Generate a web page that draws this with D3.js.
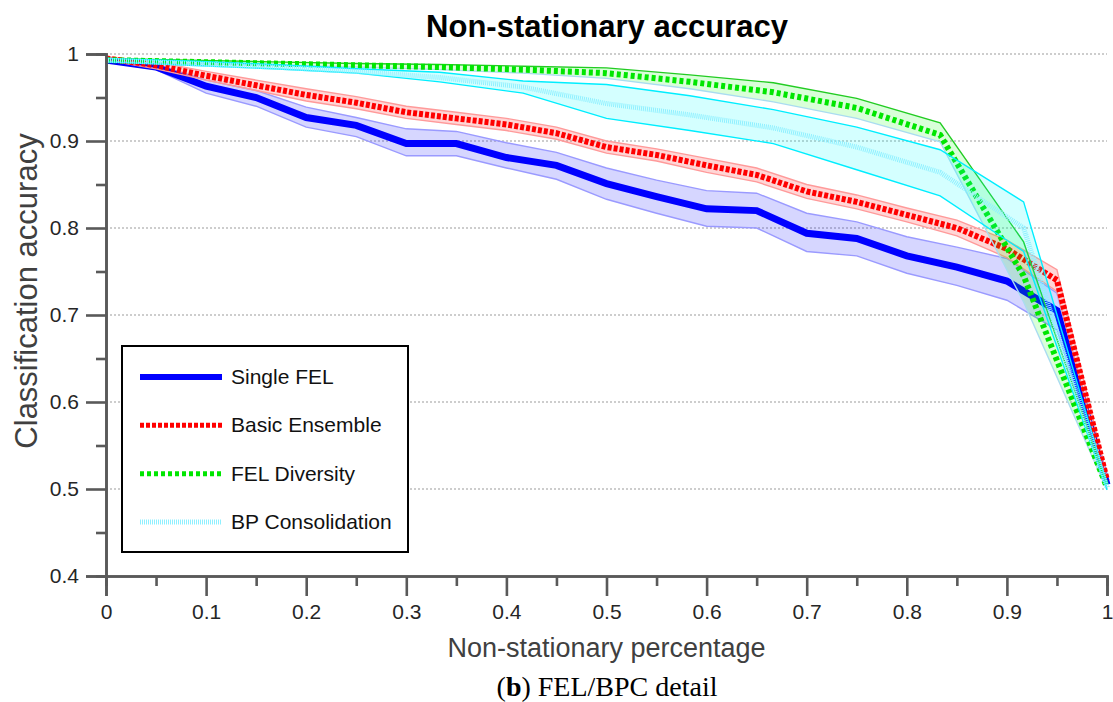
<!DOCTYPE html>
<html>
<head>
<meta charset="utf-8">
<script src="https://cdn.jsdelivr.net/npm/d3@7"></script>
<style>
  body { margin: 0; background: #fff; }
  svg { display: block; font-family: "Liberation Sans", Arial, sans-serif; }
</style>
</head>
<body>
<svg width="1113" height="702"></svg>
<script>
// x positions: the single / basic runs use 0.05 steps, the ensemble runs 1/12 steps
var xFine = [0, 0.05, 0.1, 0.15, 0.2, 0.25, 0.3, 0.35, 0.4, 0.45, 0.5,
             0.55, 0.6, 0.65, 0.7, 0.75, 0.8, 0.85, 0.9, 0.95, 1];
var xTwelfth = [0, 0.0833, 0.1667, 0.25, 0.3333, 0.4167, 0.5,
                0.5833, 0.6667, 0.75, 0.8333, 0.9167, 1];

// Single FEL
var singleMean = [0.993, 0.985, 0.963, 0.950, 0.927, 0.918, 0.897, 0.897, 0.881, 0.872, 0.851,
                  0.836, 0.822, 0.820, 0.794, 0.788, 0.768, 0.755, 0.739, 0.705, 0.505];
var singleHi   = [0.995, 0.988, 0.970, 0.958, 0.939, 0.927, 0.914, 0.911, 0.898, 0.887, 0.869,
                  0.855, 0.843, 0.840, 0.817, 0.807, 0.790, 0.778, 0.765, 0.725, 0.510];
var singleLo   = [0.991, 0.982, 0.955, 0.940, 0.916, 0.905, 0.883, 0.883, 0.869, 0.856, 0.833,
                  0.817, 0.802, 0.800, 0.773, 0.768, 0.748, 0.734, 0.717, 0.683, 0.500];

// Basic Ensemble
var basicMean = [0.995, 0.987, 0.975, 0.964, 0.953, 0.944, 0.933, 0.926, 0.919, 0.909, 0.893,
                 0.884, 0.872, 0.861, 0.842, 0.830, 0.815, 0.800, 0.776, 0.740, 0.510];
var basicHi   = [0.997, 0.991, 0.980, 0.970, 0.960, 0.951, 0.940, 0.933, 0.926, 0.916, 0.900,
                 0.891, 0.880, 0.869, 0.850, 0.838, 0.823, 0.809, 0.786, 0.752, 0.514];
var basicLo   = [0.993, 0.983, 0.970, 0.958, 0.946, 0.937, 0.926, 0.919, 0.912, 0.902, 0.886,
                 0.877, 0.864, 0.853, 0.834, 0.822, 0.807, 0.791, 0.766, 0.727, 0.506];

// FEL Diversity
var divMean = [0.993, 0.991, 0.989, 0.987, 0.985, 0.982, 0.978, 0.968, 0.956, 0.938, 0.907, 0.745, 0.502];
var divHi   = [0.995, 0.993, 0.991, 0.989, 0.988, 0.986, 0.984, 0.976, 0.967, 0.949, 0.921, 0.784, 0.505];
var divLo   = [0.991, 0.989, 0.987, 0.985, 0.982, 0.978, 0.972, 0.960, 0.945, 0.926, 0.899, 0.715, 0.499];

// BP Consolidation
var bpcMean = [0.993, 0.989, 0.985, 0.980, 0.973, 0.962, 0.943, 0.930, 0.915, 0.893, 0.864, 0.800, 0.502];
var bpcHi   = [0.995, 0.992, 0.988, 0.983, 0.979, 0.969, 0.965, 0.952, 0.936, 0.916, 0.890, 0.830, 0.506];
var bpcLo   = [0.991, 0.987, 0.983, 0.978, 0.968, 0.955, 0.926, 0.912, 0.897, 0.867, 0.837, 0.773, 0.499];

var seriesNames = ["Single FEL", "Basic Ensemble", "FEL Diversity", "BP Consolidation"];

var xMajor = [0, 0.1, 0.2, 0.3, 0.4, 0.5, 0.6, 0.7, 0.8, 0.9, 1];
var xMinor = [0.05, 0.15, 0.25, 0.35, 0.45, 0.55, 0.65, 0.75, 0.85, 0.95];
var yMajor = [0.4, 0.5, 0.6, 0.7, 0.8, 0.9, 1];
var yMinor = [0.45, 0.55, 0.65, 0.75, 0.85, 0.95];

var svg = d3.select("svg"),
    margin = {top: 54, right: 6, bottom: 126, left: 106},
    width = svg.attr("width") - margin.left - margin.right,
    height = svg.attr("height") - margin.top - margin.bottom,
    g = svg.append("g")
      .attr("transform", "translate(" + margin.left + "," + margin.top + ")");

var x = d3.scaleLinear().domain([0, 1]).range([0, width]),
    y = d3.scaleLinear().domain([0.4, 1]).range([height, 0]);

// grid
g.selectAll(".grid")
  .data(yMajor.filter(function(d) { return d > 0.4; }))
  .enter().append("line")
    .attr("x1", 0).attr("x2", width)
    .attr("y1", function(d) { return y(d); })
    .attr("y2", function(d) { return y(d); })
    .attr("stroke", "#bdbdbd")
    .attr("stroke-width", 1.3)
    .attr("stroke-dasharray", "2,2");

// series
var series = [
  {xs: xFine, mean: singleMean, hi: singleHi, lo: singleLo, fill: "rgba(0,0,255,0.16)",
   edgeHi: "#9a9aff", edgeLo: "#9a9aff", color: "#0000ff", width: 7, dash: null},
  {xs: xFine, mean: basicMean, hi: basicHi, lo: basicLo, fill: "rgba(255,0,0,0.16)",
   edgeHi: "#ff9a9a", edgeLo: "#ff9a9a", color: "#ff0000", width: 6, dash: "4,2"},
  {xs: xTwelfth, mean: divMean, hi: divHi, lo: divLo, fill: "rgba(0,255,0,0.15)",
   edgeHi: "#22cc22", edgeLo: "#aadcf0", color: "#00e600", width: 6, dash: "4,3"},
  {xs: xTwelfth, mean: bpcMean, hi: bpcHi, lo: bpcLo, fill: "rgba(0,255,255,0.17)",
   edgeHi: "#00eeff", edgeLo: "#00eeff", color: "#8ff0ff", width: 5, dash: "1,1"}
];

var line = d3.line()
  .x(function(d) { return x(d[0]); })
  .y(function(d) { return y(d[1]); });

var area = d3.area()
  .x(function(d) { return x(d[0]); })
  .y0(function(d) { return y(d[1]); })
  .y1(function(d) { return y(d[2]); });

series.forEach(function(s) {
  var band = s.xs.map(function(v, i) { return [v, s.lo[i], s.hi[i]]; });
  g.append("path").attr("d", area(band)).attr("fill", s.fill);
  g.append("path")
    .attr("d", line(s.xs.map(function(v, i) { return [v, s.hi[i]]; })))
    .attr("fill", "none").attr("stroke", s.edgeHi).attr("stroke-width", 1.4);
  g.append("path")
    .attr("d", line(s.xs.map(function(v, i) { return [v, s.lo[i]]; })))
    .attr("fill", "none").attr("stroke", s.edgeLo).attr("stroke-width", 1.4);
  g.append("path")
    .attr("d", line(s.xs.map(function(v, i) { return [v, s.mean[i]]; })))
    .attr("fill", "none")
    .attr("stroke", s.color)
    .attr("stroke-width", s.width)
    .attr("stroke-dasharray", s.dash);
});

// axes
var fmt = function(d) { return String(+d.toFixed(2)); };

g.append("g")
  .attr("class", "axis")
  .attr("transform", "translate(0," + height + ")")
  .call(d3.axisBottom(x).tickValues(xMinor).tickSize(10).tickFormat(""));
g.append("g")
  .attr("class", "axis")
  .attr("transform", "translate(0," + height + ")")
  .call(d3.axisBottom(x).tickValues(xMajor).tickSize(20).tickPadding(8).tickFormat(fmt));

g.append("g")
  .attr("class", "axis")
  .call(d3.axisLeft(y).tickValues(yMinor).tickSize(10).tickFormat(""));
g.append("g")
  .attr("class", "axis")
  .call(d3.axisLeft(y).tickValues(yMajor).tickSize(20).tickPadding(7).tickFormat(fmt));

g.selectAll(".axis path").attr("stroke", "#595959").attr("stroke-width", 2.6);
g.selectAll(".axis line").attr("stroke", "#595959").attr("stroke-width", 2.6);
g.selectAll(".axis text")
  .attr("fill", "#262626")
  .style("font-size", "21px")
  .style("font-family", "'Liberation Sans', Arial, sans-serif");

// axis labels
svg.append("text")
  .attr("x", margin.left + width / 2)
  .attr("y", 657)
  .attr("text-anchor", "middle")
  .attr("fill", "#404040")
  .style("font-size", "27px")
  .text("Non-stationary percentage");

svg.append("text")
  .attr("transform", "translate(37,291) rotate(-90)")
  .attr("text-anchor", "middle")
  .attr("fill", "#404040")
  .style("font-size", "31px")
  .text("Classification accuracy");

svg.append("text")
  .attr("x", 607)
  .attr("y", 37)
  .attr("text-anchor", "middle")
  .attr("fill", "#000")
  .style("font-size", "31px")
  .style("font-weight", "bold")
  .text("Non-stationary accuracy");

// caption
var cap = svg.append("text")
  .attr("x", 607)
  .attr("y", 696)
  .attr("text-anchor", "middle")
  .attr("fill", "#000")
  .style("font-family", "'Liberation Serif', 'Times New Roman', serif")
  .style("font-size", "28px");
cap.append("tspan").text("(");
cap.append("tspan").style("font-weight", "bold").text("b");
cap.append("tspan").text(") FEL/BPC detail");

// legend
var legend = svg.append("g").attr("transform", "translate(122,346)");
legend.append("rect")
  .attr("width", 286).attr("height", 206)
  .attr("fill", "#fff").attr("stroke", "#000").attr("stroke-width", 2);

var rowY = d3.scalePoint().domain(seriesNames).range([31, 176]);

seriesNames.forEach(function(name, i) {
  var s = series[i];
  legend.append("line")
    .attr("x1", 18).attr("x2", 100)
    .attr("y1", rowY(name)).attr("y2", rowY(name))
    .attr("stroke", s.color)
    .attr("stroke-width", i === 0 ? 6 : 5)
    .attr("stroke-dasharray", s.dash);
  legend.append("text")
    .attr("x", 109)
    .attr("y", rowY(name) + 7)
    .attr("fill", "#111")
    .style("font-size", "21px")
    .text(name);
});
</script>
</body>
</html>
